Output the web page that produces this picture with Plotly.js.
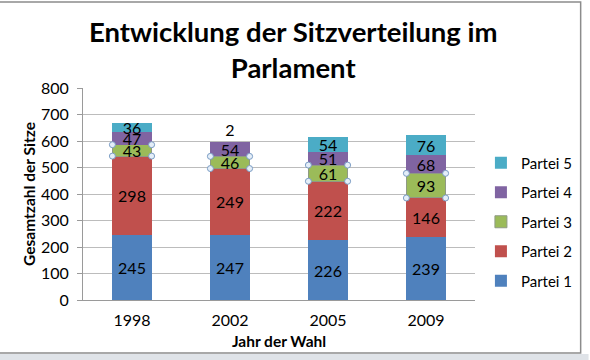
<!DOCTYPE html>
<html>
<head>
<meta charset="utf-8">
<script src="https://cdn.plot.ly/plotly-3.0.1.min.js"></script>
<style>html,body{margin:0;padding:0;background:#fff;}#chart{width:590px;height:360px;}</style>
</head>
<body>
<div id="chart"></div>
<script>
// ---- data ----
const years = ['1998', '2002', '2005', '2009'];
const partei1 = [245, 247, 226, 239];
const partei2 = [298, 249, 222, 146];
const partei3 = [43, 46, 61, 93];
const partei4 = [47, 54, 51, 68];
const partei5 = [36, 2, 54, 76];
const seriesNames = ['Partei 1', 'Partei 2', 'Partei 3', 'Partei 4', 'Partei 5'];
const seriesValues = [partei1, partei2, partei3, partei4, partei5];
const seriesColors = ['#4F81BD', '#C0504D', '#9BBB59', '#8064A2', '#4BACC6'];
const yTicks = [0, 100, 200, 300, 400, 500, 600, 700, 800];

const FONT = 'Lato, Calibri, Carlito, sans-serif';
const BARGAP = 0.6;

const traces = seriesValues.map((vals, i) => ({
  type: 'bar',
  name: seriesNames[i],
  x: years,
  y: vals,
  text: vals.map(String),
  texttemplate: '%{text}',
  textposition: vals.map(v => (v < 10 ? 'outside' : 'inside')),
  insidetextanchor: 'middle',
  constraintext: 'none',
  textangle: 0,
  cliponaxis: false,
  textfont: {family: FONT, size: 16, color: '#000'},
  insidetextfont: {family: FONT, size: 16, color: '#000'},
  outsidetextfont: {family: FONT, size: 16, color: '#000'},
  marker: {color: seriesColors[i], line: {width: i === 2 ? 1 : 0, color: '#8f9a84'}},
  legendgroup: 'g' + i,
  legendrank: 100 - i * 10,
  hoverinfo: 'name+y'
}));

// selection handles (Excel-style) around the selected series "Partei 3"
const half = (1 - BARGAP) / 2;
const hx = [], hy = [];
years.forEach((_, k) => {
  const lo = partei1[k] + partei2[k];
  const hi = lo + partei3[k];
  [[k - half, lo], [k + half, lo], [k - half, hi], [k + half, hi]].forEach(p => { hx.push(p[0]); hy.push(p[1]); });
});
traces.push({
  type: 'scatter', mode: 'markers', x: hx, y: hy, xaxis: 'x2', yaxis: 'y',
  showlegend: false, hoverinfo: 'skip', cliponaxis: false,
  marker: {symbol: 'circle', size: 6, color: '#e4eef8', line: {color: '#7a9cc4', width: 1}}
});

const M = {l: 83, r: 110, t: 88, b: 60};
const W = 590, H = 360;
const pw = W - M.l - M.r, ph = H - M.t - M.b;
const px = v => (v - M.l) / pw;
const py = v => 1 - (v - M.t) / ph;

const layout = {
  width: W, height: H,
  margin: M,
  paper_bgcolor: '#fff',
  plot_bgcolor: '#fff',
  barmode: 'stack',
  bargap: BARGAP,
  font: {family: FONT, size: 15, color: '#000'},
  title: {
    text: 'Entwicklung der Sitzverteilung im<br>Parlament',
    font: {family: FONT, size: 27.5, color: '#000', weight: 'bold'},
    x: 0.497, xanchor: 'center',
    y: 1 - 42 / H, yanchor: 'top', yref: 'container'
  },
  xaxis: {
    type: 'category',
    range: [-0.5, 3.5],
    showgrid: false,
    showline: true, linecolor: '#9a9a9a', linewidth: 1,
    ticks: '', tickfont: {family: FONT, size: 16, color: '#000'},
    ticklabelstandoff: 6,
    title: {text: 'Jahr der Wahl', font: {family: FONT, size: 15.5, color: '#000', weight: 'bold'}, standoff: 7},
    automargin: false
  },
  xaxis2: {
    type: 'linear', overlaying: 'x', range: [-0.5, 3.5], visible: false, fixedrange: true
  },
  yaxis: {
    range: [0, 800],
    tickvals: yTicks,
    showgrid: true, gridcolor: '#bcbcbc', gridwidth: 1,
    showline: true, linecolor: '#9a9a9a', linewidth: 1,
    ticks: 'outside', ticklen: 5, tickcolor: '#9a9a9a',
    tickfont: {family: FONT, size: 16, color: '#000'},
    ticklabelstandoff: 5,
    zeroline: false,
    title: {text: 'Gesamtzahl der Sitze', font: {family: FONT, size: 15.5, color: '#000', weight: 'bold'}, standoff: 1},
    automargin: false
  },
  legend: {
    x: px(486), xanchor: 'left',
    y: py(222), yanchor: 'middle',
    traceorder: 'grouped',
    tracegroupgap: 7,
    font: {family: FONT, size: 15, color: '#000'},
    bgcolor: 'rgba(0,0,0,0)',
    itemwidth: 30
  },
  showlegend: true,
  shapes: [
    {type: 'rect', xref: 'paper', yref: 'paper', x0: px(-5), x1: px(587), y0: py(353), y1: py(2),
     line: {color: '#8c8c8c', width: 1.5}, fillcolor: 'rgba(0,0,0,0)', layer: 'below'},
    {type: 'rect', xref: 'paper', yref: 'paper', x0: px(-5), x1: px(595), y0: py(365), y1: py(354),
     line: {width: 0}, fillcolor: '#dfe3e8', layer: 'below'}
  ]
};

Plotly.newPlot('chart', traces, layout, {displayModeBar: false, staticPlot: true});
</script>
</body>
</html>
